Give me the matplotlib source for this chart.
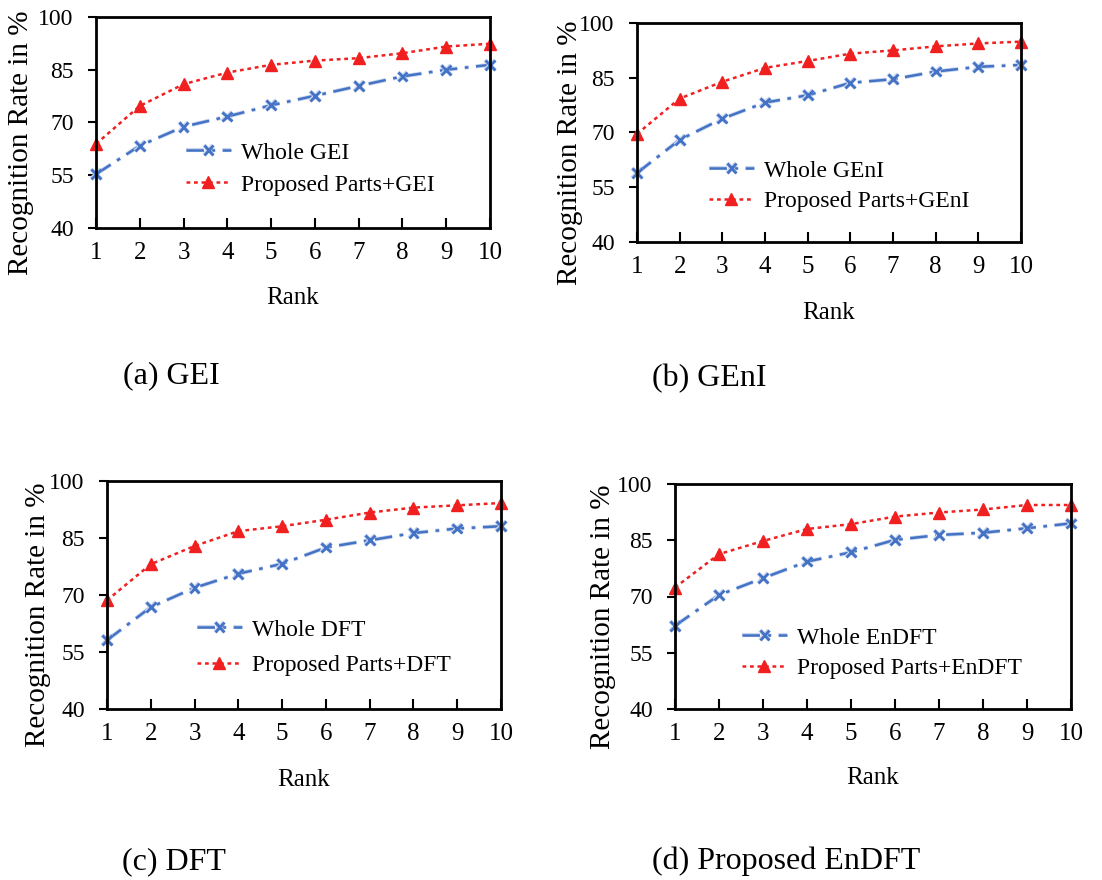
import matplotlib
matplotlib.use("Agg")
import matplotlib.pyplot as plt
import matplotlib.patheffects as pe

plt.rcParams['font.family'] = ['Liberation Serif', 'DejaVu Serif']

W, H = 1102, 880

ranks = [1, 2, 3, 4, 5, 6, 7, 8, 9, 10]

# Recognition rates (%)
whole_gei = [55.3, 63.4, 68.8, 71.7, 74.9, 77.6, 80.4, 83.1, 85.0, 86.4]
parts_gei = [63.9, 74.7, 80.9, 84.2, 86.4, 87.6, 88.3, 89.7, 91.6, 92.4]

whole_geni = [58.9, 68.0, 73.8, 78.2, 80.2, 83.6, 84.6, 86.7, 88.0, 88.5]
parts_geni = [69.6, 79.3, 83.9, 87.7, 89.6, 91.6, 92.5, 93.6, 94.4, 94.9]

whole_dft = [58.1, 66.8, 71.9, 75.6, 78.2, 82.5, 84.4, 86.3, 87.5, 88.1]
parts_dft = [68.6, 78.1, 82.9, 86.8, 88.1, 89.8, 91.7, 93.0, 93.6, 94.2]

whole_endft = [62.2, 70.4, 74.9, 79.3, 81.8, 85.1, 86.4, 87.0, 88.2, 89.5]
parts_endft = [72.4, 81.3, 84.8, 88.0, 89.3, 91.3, 92.4, 93.2, 94.4, 94.4]

feature_names = ["GEI", "GEnI", "DFT", "EnDFT"]
captions = ["(a) GEI", "(b) GEnI", "(c) DFT", "(d) Proposed EnDFT"]
yticks = [40, 55, 70, 85, 100]

# layout in pixels: axes box, legend anchor, ylabel x, xlabel y, caption
panels = [
    dict(box=(96, 17, 490, 228), leg=(186, 142, 0.45), ylab=21, xlab=298, cap=(123, 383)),
    dict(box=(637, 23, 1021, 242), leg=(709, 160, 0.38), ylab=570, xlab=313, cap=(652, 386)),
    dict(box=(107, 481, 501, 709), leg=(197, 619, 0.6), ylab=38, xlab=780, cap=(122, 869)),
    dict(box=(675, 484, 1071, 709), leg=(742, 627, 0.38), ylab=603, xlab=778, cap=(652, 869)),
]

series = [(whole_gei, parts_gei), (whole_geni, parts_geni),
          (whole_dft, parts_dft), (whole_endft, parts_endft)]

blue = '#4472C4'
red = '#F02020'

fig = plt.figure(figsize=(W / 100, H / 100), dpi=100)

for p, (whole, parts), name, cap in zip(panels, series, feature_names, captions):
    l, t, r, b = p['box']
    ax = fig.add_axes([l / W, 1 - b / H, (r - l) / W, (b - t) / H])

    ax.plot(ranks, whole, color=blue, lw=1.8, linestyle=(0, (7, 3, 1.5, 3)),
            marker='x', markersize=7, markeredgewidth=2, clip_on=False,
            path_effects=[pe.Stroke(linewidth=3, foreground='#c9d6f0'), pe.Normal()],
            label="Whole " + name)
    ax.plot(ranks, parts, color=red, lw=1.8, linestyle=(0, (1.5, 1.5)),
            marker='^', markersize=8, clip_on=False,
            label="Proposed Parts+" + name)

    ax.set_xlim(1, 10)
    ax.set_ylim(40, 100)
    ax.set_xticks(ranks)
    ax.set_yticks(yticks)
    ax.tick_params(axis='x', direction='in', length=7, width=1.5, labelsize=18, pad=10)
    ax.tick_params(axis='y', direction='out', length=6, width=1.5, labelsize=17, pad=10)
    for s in ax.spines.values():
        s.set_linewidth(2)

    ax.set_ylabel("Recognition Rate in %", fontsize=21)
    ax.yaxis.label.set_va('center')
    ax.yaxis.set_label_coords(p['ylab'] / W, 1 - (t + b + 40) / 2 / H,
                              transform=fig.transFigure)
    ax.set_xlabel("Rank", fontsize=18)
    ax.xaxis.set_label_coords((l + r) / 2 / W, 1 - p['xlab'] / H,
                              transform=fig.transFigure)
    ax.xaxis.label.set_va('center')

    lx, ly, sp = p['leg']
    ax.legend(loc='upper left', bbox_to_anchor=(lx / W, 1 - ly / H),
              bbox_transform=fig.transFigure, frameon=False, fontsize=17,
              handlelength=1.9, handletextpad=0.45, labelspacing=sp,
              borderpad=0, borderaxespad=0)

    cx, cy = p['cap']
    fig.text(cx / W, 1 - cy / H, cap, fontsize=23, va='baseline', ha='left')

fig.savefig("out.png", dpi=100)
